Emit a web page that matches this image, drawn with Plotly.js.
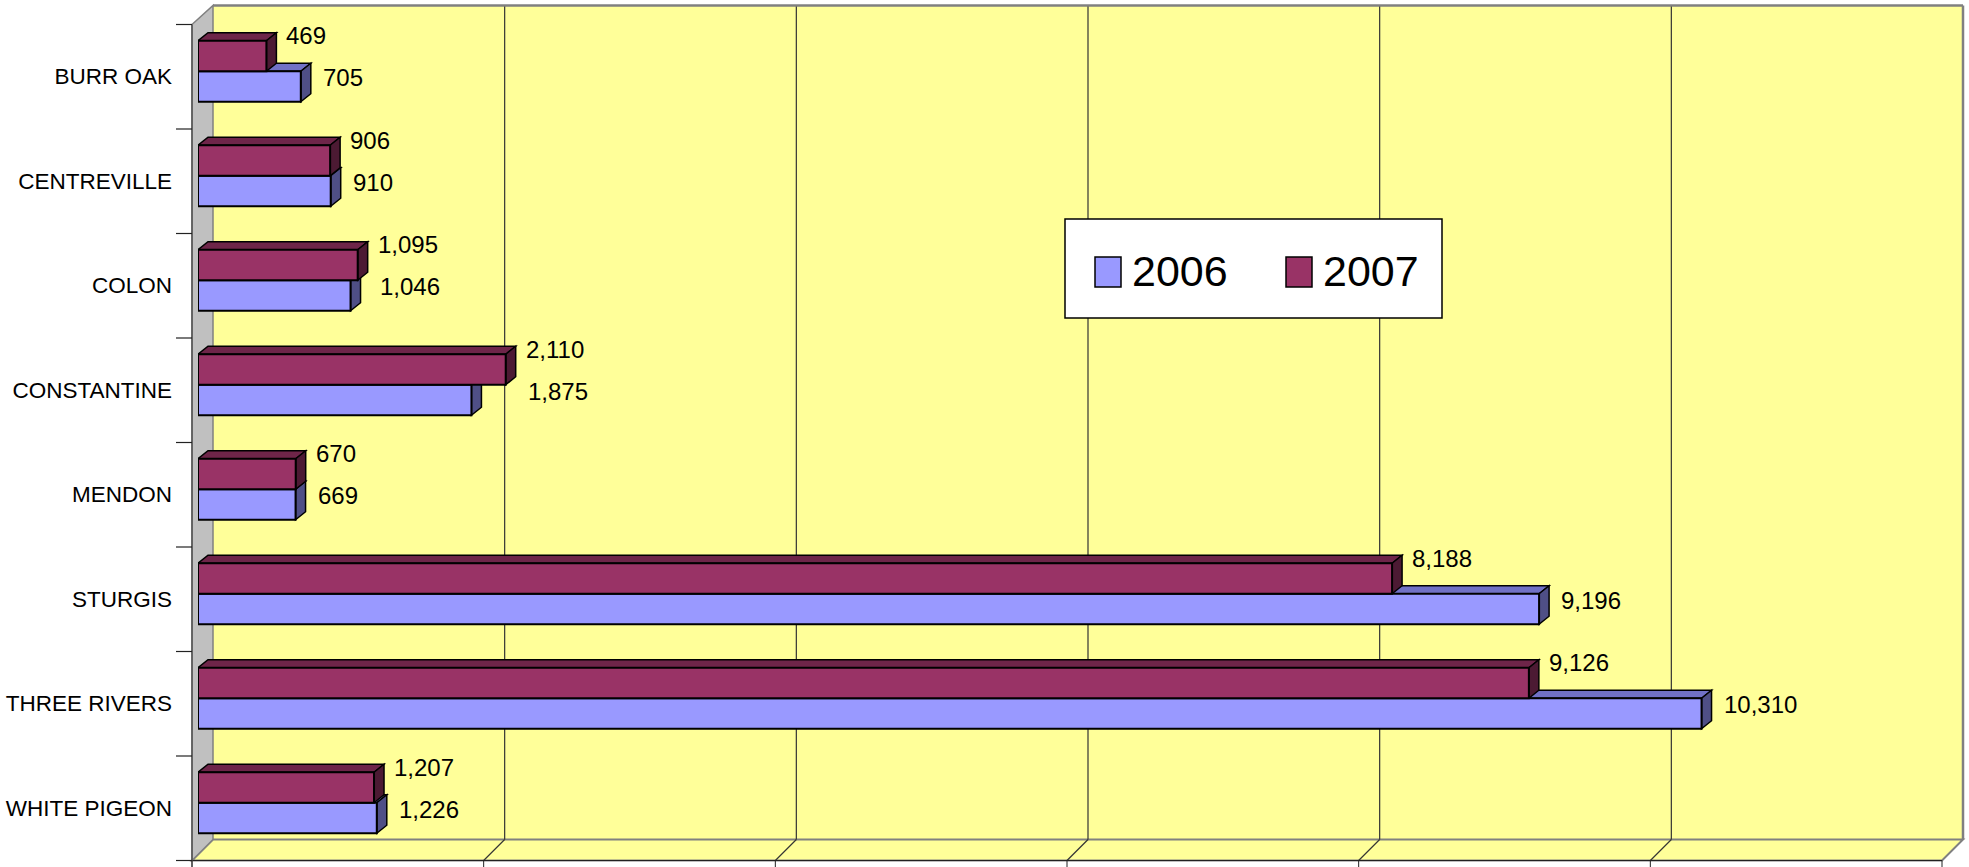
<!DOCTYPE html>
<html>
<head>
<meta charset="utf-8">
<script src="https://cdn.plot.ly/plotly-3.0.1.min.js"></script>
<style>html,body{margin:0;padding:0;background:#fff;}#chart{width:1969px;height:867px;}</style>
</head>
<body>
<div id="chart"></div>
<script>
// ---- data ----
const categories = ["BURR OAK", "CENTREVILLE", "COLON", "CONSTANTINE", "MENDON", "STURGIS", "THREE RIVERS", "WHITE PIGEON"];
const values2006 = [705, 910, 1046, 1875, 669, 9196, 10310, 1226];
const values2007 = [469, 906, 1095, 2110, 670, 8188, 9126, 1207];
const seriesNames = ["2006", "2007"];
const axisMax = 12000;
const axisStep = 2000;

// ---- styles ----
const FONT = "Liberation Sans, Arial, sans-serif";
const W = 1969, H = 867;
const M = {l: 198, r: 21, t: 19, b: 12};
const PW = W - M.l - M.r, PH = H - M.t - M.b;
const colors = {
  blue:  {front: "#9999ff", top: "#7171c6", side: "#4f4f86"},
  red:   {front: "#993366", top: "#6e2549", side: "#4c1a33"}
};
const BAR_W = 0.292;              // bar thickness in category units
const DX_PX = 10, DY_PX = 8;      // 3D depth of bars in px
const FRONT_OFF = {x: -6, y: 5.5}; // front plane relative to bar plane (px)
const BACK_OFF = {x: 15, y: -13.5}; // back wall relative to bar plane (px)

const n = categories.length;
const yPos = categories.map((c, i) => n - 1 - i);
const unitPerPx = axisMax / PW;
const catPx = PH / n;
const dx = DX_PX * unitPerPx, dy = DY_PX / catPx;

// pixel helpers -> paper coords
const px2x = p => (p - M.l) / PW;
const px2y = p => 1 - (p - M.t) / PH;
const valPx = v => M.l + v / unitPerPx;           // bar plane x pixel
const catTopPx = k => M.t + k * catPx;            // bar plane category boundary

function pathPaper(pts) {
  return "M" + pts.map(p => px2x(p[0]).toFixed(5) + "," + px2y(p[1]).toFixed(5)).join("L") + "Z";
}
function pathData(pts) {
  return "M" + pts.map(p => p[0].toFixed(3) + "," + p[1].toFixed(4)).join("L") + "Z";
}

const shapes = [];
const frontL = M.l + FRONT_OFF.x, backL = M.l + BACK_OFF.x;
const frontTop = catTopPx(0) + FRONT_OFF.y, frontBot = catTopPx(n) + FRONT_OFF.y;
const backTop = catTopPx(0) + BACK_OFF.y, backBot = catTopPx(n) + BACK_OFF.y - 2;
const frontR = valPx(axisMax) + FRONT_OFF.x, backR = valPx(axisMax) + BACK_OFF.x;
const gray = "#808080";

// back wall
shapes.push({type: "path", xref: "paper", yref: "paper", layer: "below",
  path: pathPaper([[backL, backTop], [backR, backTop], [backR, backBot], [backL, backBot]]),
  fillcolor: "#ffff99", line: {width: 0}});
// floor
shapes.push({type: "path", xref: "paper", yref: "paper", layer: "below",
  path: pathPaper([[frontL, frontBot], [backL, backBot], [backR, backBot], [frontR, frontBot]]),
  fillcolor: "#ffff99", line: {color: gray, width: 2}});
// left wall
shapes.push({type: "path", xref: "paper", yref: "paper", layer: "below",
  path: pathPaper([[frontL, frontTop], [backL, backTop], [backL, backBot], [frontL, frontBot]]),
  fillcolor: "#c0c0c0", line: {color: gray, width: 1.5}});
// back wall border top & right
shapes.push({type: "line", xref: "paper", yref: "paper", layer: "below",
  x0: px2x(backL), x1: px2x(backR), y0: px2y(backTop), y1: px2y(backTop), line: {color: gray, width: 2.5}});
shapes.push({type: "line", xref: "paper", yref: "paper", layer: "below",
  x0: px2x(backR), x1: px2x(backR), y0: px2y(backTop), y1: px2y(backBot), line: {color: gray, width: 2.5}});
// gridlines: back wall + floor diagonals, front ticks
for (let v = axisStep; v < axisMax; v += axisStep) {
  const bx = valPx(v) + BACK_OFF.x, fx = valPx(v) + FRONT_OFF.x;
  shapes.push({type: "line", xref: "paper", yref: "paper", layer: "below",
    x0: px2x(bx), x1: px2x(bx), y0: px2y(backTop + 1), y1: px2y(backBot), line: {color: "#333", width: 1.2}});
  shapes.push({type: "line", xref: "paper", yref: "paper", layer: "below",
    x0: px2x(fx), x1: px2x(bx), y0: px2y(frontBot), y1: px2y(backBot), line: {color: "#333", width: 1.2}});
}
for (let v = 0; v <= axisMax; v += axisStep) {
  const fx = valPx(v) + FRONT_OFF.x;
  shapes.push({type: "line", xref: "paper", yref: "paper", layer: "below",
    x0: px2x(fx), x1: px2x(fx), y0: px2y(frontBot), y1: px2y(H), line: {color: "#222", width: 1}});
}
// front axis lines
shapes.push({type: "line", xref: "paper", yref: "paper", layer: "below",
  x0: px2x(frontL), x1: px2x(frontR), y0: px2y(frontBot), y1: px2y(frontBot), line: {color: "#222", width: 1.2}});
shapes.push({type: "line", xref: "paper", yref: "paper", layer: "below",
  x0: px2x(frontL), x1: px2x(frontL), y0: px2y(frontTop), y1: px2y(H), line: {color: "#444", width: 1.2}});
// category ticks
for (let k = 0; k <= n; k++) {
  const ty = catTopPx(k) + FRONT_OFF.y;
  shapes.push({type: "line", xref: "paper", yref: "paper", layer: "below",
    x0: px2x(frontL - 16), x1: px2x(frontL), y0: px2y(ty), y1: px2y(ty), line: {color: "#222", width: 1.2}});
}

// 3D faces of bars (top and side), computed from the data
function topFace(v, yb) { return [[0, yb], [v, yb], [v + dx, yb + dy], [dx, yb + dy]]; }
function sideFace(v, yb) { return [[v, yb], [v + dx, yb + dy], [v + dx, yb + BAR_W + dy], [v, yb + BAR_W]]; }
const faceLine = {color: "#000", width: 1.5};
yPos.forEach((c, i) => {
  const vb = values2006[i], vr = values2007[i];
  shapes.push({type: "path", xref: "x", yref: "y", layer: "below", path: pathData(topFace(vb, c)), fillcolor: colors.blue.top, line: faceLine});
  shapes.push({type: "path", xref: "x", yref: "y", layer: "below", path: pathData(sideFace(vb, c - BAR_W)), fillcolor: colors.blue.side, line: faceLine});
  shapes.push({type: "path", xref: "x", yref: "y", layer: "below", path: pathData(topFace(vr, c + BAR_W)), fillcolor: colors.red.top, line: faceLine});
  shapes.push({type: "path", xref: "x", yref: "y", layer: "below", path: pathData(sideFace(vr, c)), fillcolor: colors.red.side, line: faceLine});
});

// legend (drawn)
const LG = {x0: 1065, y0: 219, x1: 1442, y1: 318};
shapes.push({type: "rect", xref: "paper", yref: "paper", layer: "above",
  x0: px2x(LG.x0), x1: px2x(LG.x1), y0: px2y(LG.y0), y1: px2y(LG.y1), fillcolor: "#fff", line: {color: "#000", width: 1.5}});
const legendItems = [{name: seriesNames[0], color: colors.blue.front, sx: 1095, tx: 1130},
                     {name: seriesNames[1], color: colors.red.front, sx: 1286, tx: 1321}];
const annotations = [];
legendItems.forEach(it => {
  shapes.push({type: "rect", xref: "paper", yref: "paper", layer: "above",
    x0: px2x(it.sx), x1: px2x(it.sx + 26), y0: px2y(257), y1: px2y(287), fillcolor: it.color, line: {color: "#000", width: 1.5}});
  annotations.push({xref: "paper", yref: "paper", x: px2x(it.tx), y: px2y(271), xanchor: "left", yanchor: "middle",
    text: it.name, showarrow: false, font: {family: FONT, size: 43, color: "#000"}});
});

// data labels
const fmt = v => v.toLocaleString("en-US");
const LABEL_SIZE = 24;
yPos.forEach((c, i) => {
  const vb = values2006[i], vr = values2007[i];
  annotations.push({xref: "x", yref: "y", x: vr, y: c + BAR_W / 2, xanchor: "left", yanchor: "middle",
    xshift: 18, yshift: 20, text: fmt(vr), showarrow: false, font: {family: FONT, size: LABEL_SIZE, color: "#000"}});
  annotations.push({xref: "x", yref: "y", x: Math.max(vb, vr), y: c - BAR_W / 2, xanchor: "left", yanchor: "middle",
    xshift: 20, yshift: 9, text: fmt(vb), showarrow: false, font: {family: FONT, size: LABEL_SIZE, color: "#000"}});
});

const traces = [
  {type: "bar", orientation: "h", name: seriesNames[0], x: values2006, y: yPos, width: BAR_W, offset: -BAR_W,
   marker: {color: colors.blue.front, line: {color: "#000", width: 2}}, showlegend: false, hoverinfo: "x+name"},
  {type: "bar", orientation: "h", name: seriesNames[1], x: values2007, y: yPos, width: BAR_W, offset: 0,
   marker: {color: colors.red.front, line: {color: "#000", width: 2}}, showlegend: false, hoverinfo: "x+name"}
];

const layout = {
  width: W, height: H, margin: M,
  paper_bgcolor: "#ffffff", plot_bgcolor: "rgba(0,0,0,0)",
  barmode: "overlay", showlegend: false,
  font: {family: FONT, color: "#000"},
  xaxis: {range: [0, axisMax], showgrid: false, zeroline: false, showticklabels: false, showline: false, fixedrange: true},
  yaxis: {range: [-0.5, n - 0.5], tickvals: yPos, ticktext: categories, showgrid: false, zeroline: false, showline: false,
          ticks: "", ticklabelstandoff: 25, ticklabelshift: 5, tickfont: {family: FONT, size: 22.5, color: "#000"}, fixedrange: true},
  shapes: shapes,
  annotations: annotations
};

Plotly.newPlot("chart", traces, layout, {displayModeBar: false, staticPlot: true});
</script>
</body>
</html>
